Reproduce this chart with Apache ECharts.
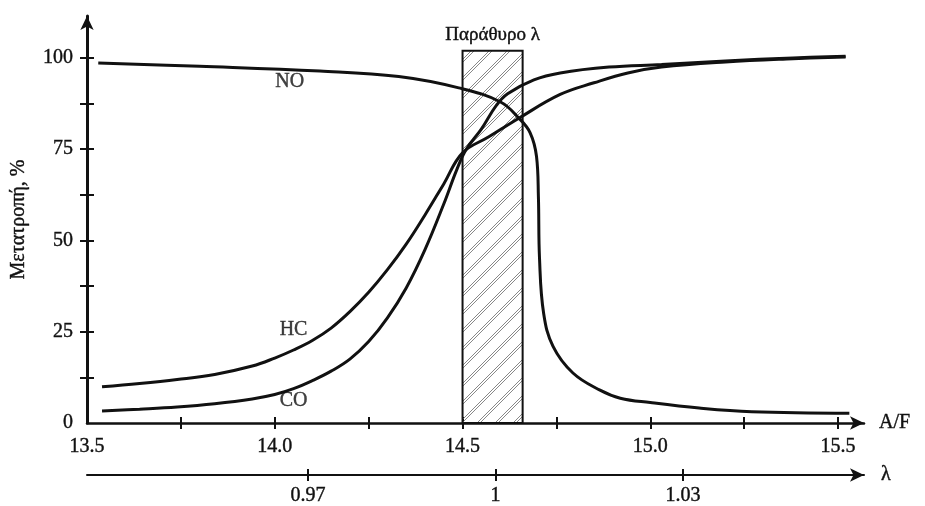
<!DOCTYPE html>
<html>
<head>
<meta charset="utf-8">
<script src="https://cdn.jsdelivr.net/npm/echarts@6/dist/echarts.min.js"></script>
<style>
  html, body { margin: 0; padding: 0; background: #fff; }
  #main { width: 925px; height: 506px; }
</style>
</head>
<body>
<div id="main"></div>
<script>
// conversion curves, [A/F, %]
const noData = [
  [13.53, 98.6], [13.80, 97.7], [14.12, 96.4], [14.33, 94.9], [14.49, 91.8],
  [14.60, 88.0], [14.65, 83.5], [14.68, 79.5], [14.697, 73], [14.702, 62],
  [14.705, 45], [14.716, 30], [14.741, 21], [14.794, 13.7], [14.866, 9],
  [14.92, 6.8], [15.0, 5.6], [15.13, 4.1], [15.27, 3.1], [15.53, 2.7]
];
const hcData = [
  [13.54, 9.9], [13.64, 10.8], [13.74, 11.9], [13.84, 13.3], [13.94, 15.6],
  [14.00, 17.8], [14.05, 20.0], [14.10, 22.6], [14.15, 26.0], [14.20, 30.5],
  [14.25, 35.8], [14.30, 42.0], [14.35, 49.0], [14.40, 57.0], [14.45, 65.5],
  [14.50, 74.0], [14.57, 78.4], [14.65, 83.5], [14.76, 90], [14.85, 93.2],
  [14.94, 95.9], [15.03, 97.5], [15.2, 98.9], [15.38, 99.8], [15.52, 100.3]
];
const coData = [
  [13.54, 3.3], [13.64, 3.8], [13.74, 4.4], [13.84, 5.3], [13.94, 6.6],
  [14.00, 7.8], [14.05, 9.4], [14.10, 11.6], [14.15, 14.2], [14.20, 17.5],
  [14.25, 22.3], [14.30, 28.8], [14.35, 37.0], [14.40, 47.5], [14.45, 60.0],
  [14.485, 69.5], [14.51, 75], [14.55, 80.5], [14.59, 87.0], [14.62, 90.2],
  [14.69, 94], [14.76, 95.9], [14.89, 97.5], [15.03, 98.2], [15.2, 99.2],
  [15.38, 100], [15.52, 100.5]
];
// lambda window: [A/F from, A/F to, top %]
const windowRange = [[14.5, 14.66, 102]];
const windowLabel = 'Παράθυρο λ';
// curve names and where they are written, [A/F, %]
const curveNames = ['NO', 'HC', 'CO'];
const curveLabelAt = [[14.04, 93.4], [14.05, 25.5], [14.05, 6]];

const afTicks = [13.75, 14.0, 14.25, 14.5, 14.75, 15.0, 15.25, 15.5];
const afLabels = [13.5, 14.0, 14.5, 15.0, 15.5];
const lambdaTicks = [0.97, 1, 1.03];
const yTicks = [12.5, 25, 37.5, 50, 62.5, 75, 87.5, 100];
const yLabels = [0, 25, 50, 75, 100];

const font = 'Liberation Serif';
const ink = '#111';

// hatch pattern for the window
const hatch = document.createElement('canvas');
hatch.width = 18; hatch.height = 18;
const g = hatch.getContext('2d');
g.strokeStyle = '#888';
g.lineWidth = 1;
[0, 3].forEach(d => {
  g.beginPath();
  g.moveTo(d - 18, 18); g.lineTo(d, 0);
  g.moveTo(d, 18); g.lineTo(d + 18, 0);
  g.stroke();
});

const chart = echarts.init(document.getElementById('main'));

const txt = { fontFamily: font, fontSize: 20, color: ink, textBorderColor: ink, textBorderWidth: 0.4 };
const afMin = 13.5, afMax = 15.569;
const lamMin = 0.93464, lamMax = 1.05896;

function lineSeries(name, data) {
  return {
    name: name,
    type: 'line',
    data: data,
    showSymbol: false,
    smooth: 0.4,
    lineStyle: { color: ink, width: 3 },
    z: 5
  };
}

const option = {
  animation: false,
  backgroundColor: '#fff',
  grid: { left: 87, right: 61, top: 16, bottom: 83, outerBoundsMode: 'none' },
  xAxis: [
    {
      type: 'value', min: afMin, max: afMax, position: 'bottom',
      axisLine: { lineStyle: { color: ink, width: 2.5 }, symbol: ['none', 'arrow'], symbolSize: [10, 14] },
      axisTick: { customValues: afTicks, length: 6, lineStyle: { color: ink, width: 2 } },
      axisLabel: { customValues: afLabels, formatter: v => v.toFixed(1), margin: 14, ...txt },
      splitLine: { show: false },
      name: 'A/F', nameLocation: 'end', nameGap: 15, nameTextStyle: txt
    },
    {
      type: 'value', min: afMin, max: afMax, position: 'bottom',
      axisLine: { show: false },
      axisTick: { inside: true, customValues: afTicks, length: 6, lineStyle: { color: ink, width: 2 } },
      axisLabel: { show: false },
      splitLine: { show: false }
    },
    {
      type: 'value', min: lamMin, max: lamMax, position: 'bottom', offset: 52,
      axisLine: { lineStyle: { color: ink, width: 2 }, symbol: ['none', 'arrow'], symbolSize: [10, 14] },
      axisTick: { customValues: lambdaTicks, length: 6, lineStyle: { color: ink, width: 2 } },
      axisLabel: { customValues: lambdaTicks, margin: 11, ...txt },
      splitLine: { show: false },
      name: 'λ', nameLocation: 'end', nameGap: 17, nameTextStyle: txt
    },
    {
      type: 'value', min: lamMin, max: lamMax, position: 'bottom', offset: 52,
      axisLine: { show: false },
      axisTick: { inside: true, customValues: lambdaTicks, length: 6, lineStyle: { color: ink, width: 2 } },
      axisLabel: { show: false },
      splitLine: { show: false }
    }
  ],
  yAxis: [
    {
      type: 'value', min: 0, max: 111.5, position: 'left',
      axisLine: { lineStyle: { color: ink, width: 3 }, symbol: ['none', 'arrow'], symbolSize: [10, 14] },
      axisTick: { customValues: yTicks, length: 7, lineStyle: { color: ink, width: 2 } },
      axisLabel: { customValues: yLabels, margin: 14, ...txt },
      splitLine: { show: false },
      name: 'Μετατροπή, %', nameLocation: 'middle', nameGap: 58, nameTextStyle: txt
    },
    {
      type: 'value', min: 0, max: 111.5, position: 'left',
      axisLine: { show: false },
      axisTick: { inside: true, customValues: yTicks, length: 7, lineStyle: { color: ink, width: 2 } },
      axisLabel: { show: false },
      splitLine: { show: false }
    }
  ],
  series: [
    {
      type: 'custom',
      data: windowRange,
      z: 2,
      renderItem: (params, api) => {
        const p0 = api.coord([api.value(0), 0]);
        const p1 = api.coord([api.value(1), api.value(2)]);
        return {
          type: 'group',
          children: [
            {
              type: 'rect',
              shape: { x: p0[0], y: p1[1], width: p1[0] - p0[0], height: p0[1] - p1[1] },
              style: { fill: { image: hatch, repeat: 'repeat' }, stroke: ink, lineWidth: 2 }
            },
            {
              type: 'text',
              x: (p0[0] + p1[0]) / 2,
              y: p1[1] - 6,
              style: { text: windowLabel, font: '19px "' + font + '"', fill: ink, stroke: ink, lineWidth: 0.4, align: 'center', verticalAlign: 'bottom' }
            }
          ]
        };
      }
    },
    lineSeries('NO', noData),
    lineSeries('HC', hcData),
    lineSeries('CO', coData),
    {
      type: 'scatter',
      symbolSize: 0,
      data: curveNames.map((n, i) => ({ name: n, value: curveLabelAt[i] })),
      label: { show: true, position: 'inside', formatter: p => p.name, ...txt },
      z: 6
    }
  ]
};

chart.setOption(option);
</script>
</body>
</html>
